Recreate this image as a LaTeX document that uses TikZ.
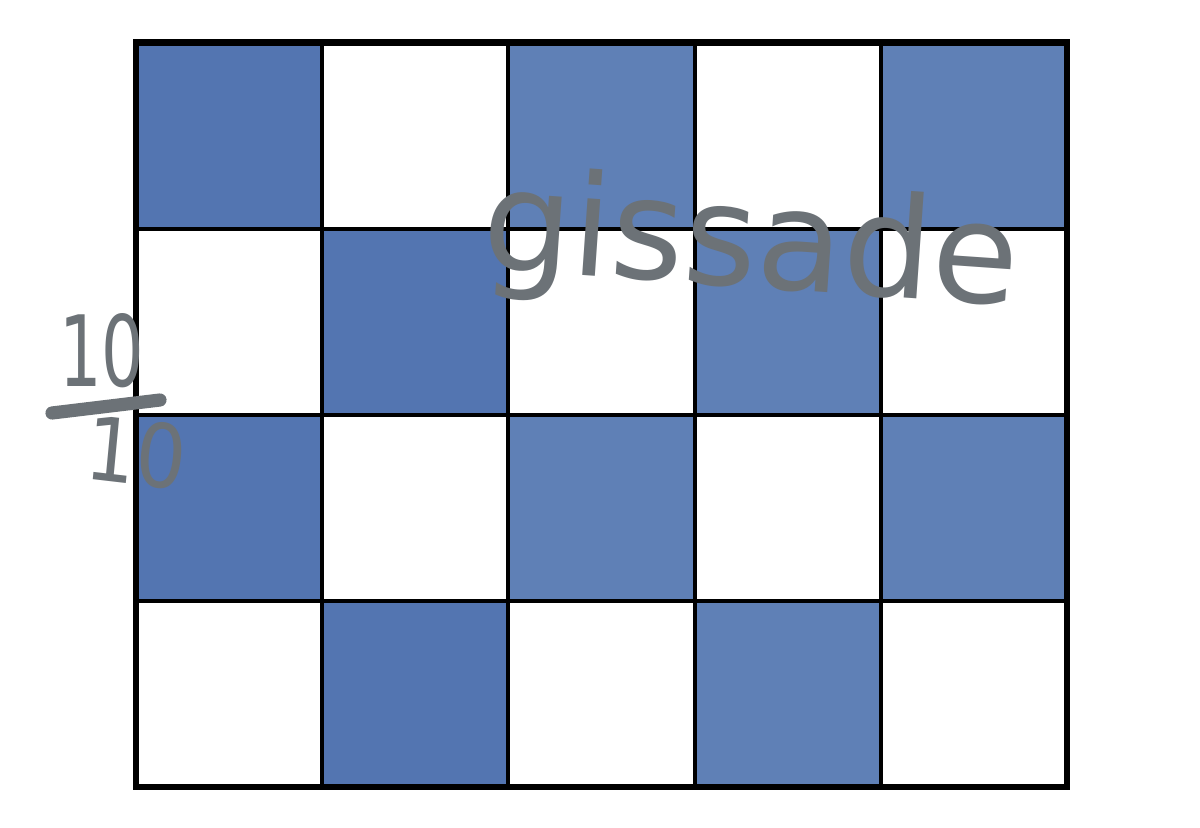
\documentclass[tikz,border=0pt]{standalone}
\usepackage{fontspec}
\newfontfamily\handfont{DejaVu Sans}
\definecolor{bluedark}{HTML}{5375B1}
\definecolor{bluelight}{HTML}{5F80B6}
\definecolor{pen}{HTML}{6C7277}
\tikzset{
  inner line/.style={line width=2.3pt, black},
  outer line/.style={line width=3.7pt, black},
  penstroke/.style={line width=7.5pt, pen, line cap=round},
  handtext/.style={text=pen, inner sep=0pt, font=\handfont}
}
\begin{document}
\begin{tikzpicture}[x=0.02cm, y=-0.02cm]
\useasboundingbox (0,0) rectangle (1200,828);
\fill[white] (0,0) rectangle (1200,828);
% cell geometry
\def\xa{136}\def\cw{186.2}\def\ya{42.5}\def\rh{186.1}
% darker columns 0,1
\fill[bluedark] (\xa,\ya) rectangle ++(\cw,\rh);
\fill[bluedark] (\xa+\cw,\ya+\rh) rectangle ++(\cw,\rh);
\fill[bluedark] (\xa,\ya+2*\rh) rectangle ++(\cw,\rh);
\fill[bluedark] (\xa+\cw,\ya+3*\rh) rectangle ++(\cw,\rh);
% lighter columns 2-4
\fill[bluelight] (\xa+2*\cw,\ya) rectangle ++(\cw,\rh);
\fill[bluelight] (\xa+4*\cw,\ya) rectangle ++(\cw,\rh);
\fill[bluelight] (\xa+3*\cw,\ya+\rh) rectangle ++(\cw,\rh);
\fill[bluelight] (\xa+2*\cw,\ya+2*\rh) rectangle ++(\cw,\rh);
\fill[bluelight] (\xa+4*\cw,\ya+2*\rh) rectangle ++(\cw,\rh);
\fill[bluelight] (\xa+3*\cw,\ya+3*\rh) rectangle ++(\cw,\rh);
% inner grid lines
\foreach \i in {1,2,3,4} {
  \draw[inner line] (\xa+\i*\cw,\ya) -- (\xa+\i*\cw,\ya+4*\rh);
}
\foreach \j in {1,2,3} {
  \draw[inner line] (\xa,\ya+\j*\rh) -- (\xa+5*\cw,\ya+\j*\rh);
}
\draw[outer line] (\xa,\ya) rectangle (\xa+5*\cw,\ya+4*\rh);
% handwritten word
\node[handtext, anchor=base west, rotate=-4, font=\handfont\fontsize{80}{80}\selectfont] (word) at (480,268) {gissade};
% handwritten fraction 10/10
\node[handtext, anchor=base, xscale=0.68, font=\handfont\fontsize{56}{56}\selectfont] (num) at (102,386) {10};
\node[handtext, anchor=base, xscale=0.9, rotate=-6, font=\handfont\fontsize{50}{50}\selectfont] (den) at (134,484) {10};
\coordinate (barL) at (52,413);
\coordinate (barR) at (160,400);
\draw[penstroke] (barL) -- (barR);
\end{tikzpicture}
\end{document}
